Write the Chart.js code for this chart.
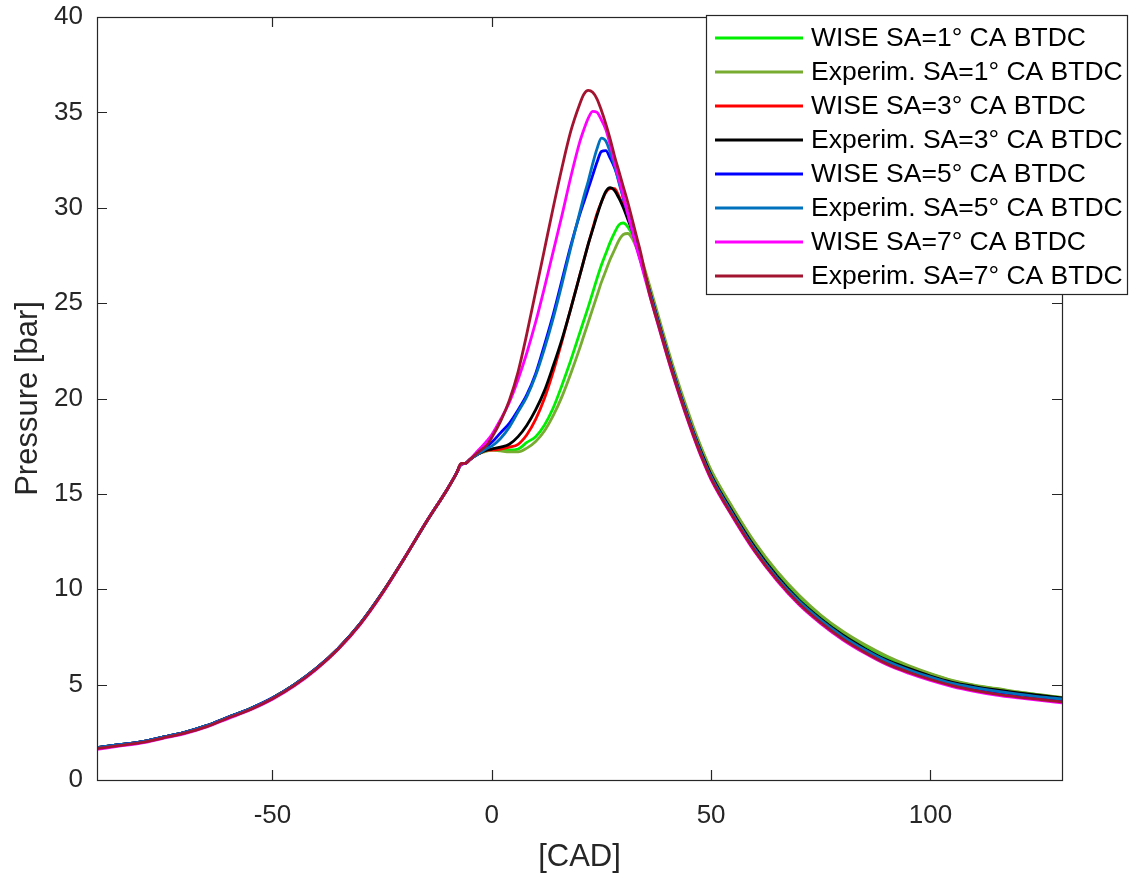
<!DOCTYPE html>
<html>
<head>
<meta charset="utf-8">
<script src="https://cdn.jsdelivr.net/npm/chart.js@4.4.1/dist/chart.umd.min.js"></script>
<style>
  html, body { margin: 0; padding: 0; background: #ffffff; }
  #wrap { width: 1132px; height: 874px; }
</style>
</head>
<body>
<div id="wrap"><canvas id="c" width="1132" height="874"></canvas></div>
<script>
// Crank angle [CAD] sampling shared by all curves
const CAD = [-90,-85,-80,-75,-70,-65,-60,-55,-50,-45,-40,-35,-30,-25,-20,-15,-10,-8,-7,-6,-5,-3,-1,
  0,2,4,6,8,10,12,14,16,18,20,
  21,22,23,24,25,26,27,28,29,30,31,32,33,34,
  36,38,40,42,44,46,48,50,
  55,60,65,70,75,80,85,90,95,100,105,110,115,120,125,130];

// Pressure [bar] series
const wiseSA1 = [1.7,1.85,2.0,2.25,2.5,2.85,3.3,3.75,4.3,5.0,5.85,6.9,8.2,9.8,11.6,13.5,15.3,16.1,16.55,16.6,16.8,17.15,17.3,
  17.35,17.3,17.3,17.35,17.7,18.0,18.6,19.5,20.7,22.0,23.4,
  24.1,24.8,25.55,26.3,27.0,27.6,28.2,28.7,29.1,29.2,29.0,28.6,28.0,27.3,
  25.8,24.2,22.6,21.1,19.7,18.4,17.25,16.2,
  14.2,12.4,10.9,9.65,8.6,7.75,7.05,6.45,5.95,5.55,5.2,4.95,4.78,4.6,4.45,4.32];
const expSA1 = [1.7,1.85,2.0,2.25,2.5,2.85,3.3,3.75,4.3,5.0,5.85,6.9,8.2,9.8,11.6,13.5,15.3,16.1,16.55,16.6,16.8,17.1,17.25,
  17.3,17.25,17.2,17.2,17.4,17.75,18.3,19.1,20.1,21.3,22.6,
  23.3,24.0,24.7,25.4,26.1,26.7,27.3,27.8,28.3,28.6,28.65,28.4,27.9,27.4,
  25.9,24.3,22.7,21.2,19.8,18.5,17.3,16.25,
  14.25,12.45,10.95,9.7,8.65,7.8,7.1,6.5,6.0,5.58,5.22,4.97,4.8,4.62,4.47,4.33];
const wiseSA3 = [1.7,1.85,2.0,2.25,2.5,2.85,3.3,3.75,4.3,5.0,5.85,6.9,8.2,9.8,11.6,13.5,15.3,16.1,16.55,16.6,16.8,17.1,17.3,
  17.3,17.35,17.45,17.6,18.1,18.9,20.0,21.4,23.0,24.7,26.4,
  27.25,28.1,28.9,29.7,30.3,30.8,31.0,31.0,30.6,30.1,29.5,28.9,28.1,27.25,
  25.6,24.0,22.4,20.9,19.5,18.2,17.0,15.95,
  13.95,12.15,10.65,9.4,8.4,7.55,6.85,6.25,5.8,5.4,5.07,4.83,4.65,4.5,4.36,4.24];
const expSA3 = [1.7,1.85,2.0,2.25,2.5,2.85,3.3,3.75,4.3,5.0,5.85,6.9,8.2,9.8,11.6,13.5,15.3,16.1,16.55,16.6,16.8,17.1,17.3,
  17.35,17.45,17.6,18.0,18.6,19.4,20.4,21.7,23.1,24.7,26.4,
  27.25,28.1,28.85,29.6,30.3,30.85,31.05,30.9,30.5,30.0,29.4,28.8,28.0,27.2,
  25.6,24.0,22.4,20.9,19.5,18.2,17.05,16.0,
  14.0,12.2,10.7,9.45,8.45,7.6,6.9,6.3,5.85,5.45,5.12,4.9,4.72,4.57,4.43,4.3];
const wiseSA5 = [1.7,1.85,2.0,2.25,2.5,2.85,3.3,3.75,4.3,5.0,5.85,6.9,8.2,9.8,11.6,13.5,15.3,16.1,16.55,16.6,16.8,17.15,17.5,
  17.7,18.2,18.7,19.4,20.2,21.3,22.8,24.4,26.2,28.0,29.6,
  30.3,31.0,31.7,32.4,32.95,33.0,32.6,32.1,31.4,30.5,29.7,28.85,28.0,27.2,
  25.55,23.95,22.35,20.85,19.45,18.15,16.95,15.9,
  13.9,12.1,10.6,9.35,8.35,7.5,6.8,6.2,5.75,5.35,5.03,4.8,4.62,4.47,4.33,4.2];
const expSA5 = [1.7,1.85,2.0,2.25,2.5,2.85,3.3,3.75,4.3,5.0,5.85,6.9,8.2,9.8,11.6,13.5,15.3,16.1,16.55,16.6,16.8,17.1,17.4,
  17.5,17.9,18.5,19.3,20.1,21.2,22.6,24.2,26.0,27.9,29.7,
  30.6,31.4,32.3,33.1,33.65,33.5,32.9,32.2,31.3,30.5,29.7,28.85,28.0,27.2,
  25.55,23.95,22.35,20.85,19.45,18.15,16.95,15.9,
  13.9,12.1,10.6,9.38,8.38,7.53,6.83,6.24,5.78,5.39,5.06,4.84,4.66,4.5,4.36,4.25];
const wiseSA7 = [1.6,1.77,1.93,2.18,2.43,2.78,3.23,3.68,4.23,4.93,5.8,6.85,8.15,9.75,11.6,13.5,15.3,16.1,16.55,16.6,16.8,17.3,17.8,
  18.1,18.9,19.8,21.0,22.4,24.0,25.8,27.7,29.6,31.6,33.4,
  34.1,34.7,35.05,35.0,34.6,34.1,33.3,32.4,31.5,30.6,29.7,28.8,27.9,27.1,
  25.4,23.8,22.2,20.7,19.3,18.0,16.8,15.75,
  13.75,11.95,10.45,9.2,8.2,7.35,6.65,6.05,5.6,5.22,4.9,4.65,4.45,4.3,4.17,4.05];
const expSA7 = [1.65,1.8,1.96,2.2,2.46,2.8,3.26,3.7,4.26,4.96,5.82,6.87,8.17,9.78,11.6,13.5,15.3,16.1,16.6,16.6,16.8,17.2,17.6,
  17.95,18.8,19.9,21.4,23.4,25.6,27.8,30.0,32.1,34.0,35.4,
  35.95,36.15,36.05,35.7,35.1,34.4,33.6,32.7,31.9,31.1,30.3,29.4,28.5,27.6,
  25.45,23.85,22.25,20.75,19.35,18.05,16.85,15.8,
  13.8,12.0,10.5,9.25,8.25,7.4,6.7,6.1,5.65,5.27,4.95,4.7,4.5,4.35,4.22,4.1];

const seriesLabels = [
  'WISE SA=1° CA BTDC','Experim. SA=1° CA BTDC',
  'WISE SA=3° CA BTDC','Experim. SA=3° CA BTDC',
  'WISE SA=5° CA BTDC','Experim. SA=5° CA BTDC',
  'WISE SA=7° CA BTDC','Experim. SA=7° CA BTDC'];
const seriesValues = [wiseSA1, expSA1, wiseSA3, expSA3, wiseSA5, expSA5, wiseSA7, expSA7];
const seriesColors = ['#00ee00','#77ac30','#ff0000','#000000','#0000ff','#0072bd','#ff00ff','#a2142f'];

const X_TICKS = [-50, 0, 50, 100];
const Y_TICKS = [0, 5, 10, 15, 20, 25, 30, 35, 40];

const FONT = "'Liberation Sans', Arial, Helvetica, sans-serif";
const AXIS_COLOR = '#262626';

const datasets = seriesValues.map((vals, i) => ({
  label: seriesLabels[i],
  data: CAD.map((x, k) => ({ x: x, y: vals[k] })),
  borderColor: seriesColors[i],
  backgroundColor: seriesColors[i],
  borderWidth: 2.8,
  pointRadius: 0,
  fill: false,
  cubicInterpolationMode: 'monotone',
  order: seriesValues.length - i
}));

const framePlugin = {
  id: 'frame',
  afterDatasetsDraw(chart) {
    const { ctx, chartArea: a, scales } = chart;
    ctx.save();
    ctx.strokeStyle = AXIS_COLOR;
    ctx.lineWidth = 1.2;
    ctx.strokeRect(a.left + 0.5, a.top + 0.5, a.right - a.left, a.bottom - a.top);
    const tl = 10;
    ctx.beginPath();
    X_TICKS.forEach(v => {
      const px = Math.round(scales.x.getPixelForValue(v)) + 0.5;
      ctx.moveTo(px, a.bottom); ctx.lineTo(px, a.bottom - tl);
      ctx.moveTo(px, a.top); ctx.lineTo(px, a.top + tl);
    });
    Y_TICKS.forEach(v => {
      const py = Math.round(scales.y.getPixelForValue(v)) + 0.5;
      ctx.moveTo(a.left, py); ctx.lineTo(a.left + tl, py);
      ctx.moveTo(a.right, py); ctx.lineTo(a.right - tl, py);
    });
    ctx.stroke();
    ctx.restore();
  }
};

const legendPlugin = {
  id: 'boxLegend',
  afterDraw(chart) {
    const { ctx } = chart;
    const bx = 706, by = 15, bw = 421, bh = 279;
    ctx.save();
    ctx.fillStyle = '#ffffff';
    ctx.fillRect(bx, by, bw, bh);
    ctx.strokeStyle = AXIS_COLOR;
    ctx.lineWidth = 1.2;
    ctx.strokeRect(bx + 0.5, by + 0.5, bw, bh);
    ctx.font = '26.5px ' + FONT;
    ctx.textBaseline = 'middle';
    ctx.textAlign = 'left';
    chart.data.datasets.forEach((ds, i) => {
      const y = 38 + i * 34;
      ctx.strokeStyle = ds.borderColor;
      ctx.lineWidth = 2.8;
      ctx.beginPath();
      ctx.moveTo(715, y); ctx.lineTo(803, y);
      ctx.stroke();
      ctx.fillStyle = '#000000';
      ctx.fillText(ds.label, 811, y + 1);
    });
    ctx.restore();
  }
};

new Chart(document.getElementById('c'), {
  type: 'line',
  data: { datasets: datasets },
  options: {
    responsive: false,
    animation: false,
    events: [],
    layout: { padding: { left: 0, top: 17, right: 70, bottom: 0 } },
    plugins: { legend: { display: false }, tooltip: { enabled: false } },
    scales: {
      x: {
        type: 'linear',
        min: -90, max: 130,
        afterBuildTicks: s => { s.ticks = X_TICKS.map(v => ({ value: v })); },
        afterFit: s => { s.height = 94; s.paddingLeft = 0; s.paddingRight = 0; },
        grid: { display: false, drawTicks: false },
        border: { display: false },
        ticks: { color: AXIS_COLOR, font: { family: FONT, size: 26 }, padding: 20, maxRotation: 0 },
        title: { display: true, text: '[CAD]', color: AXIS_COLOR, font: { family: FONT, size: 31, lineHeight: 1 }, padding: { top: 0, bottom: 1 } }
      },
      y: {
        type: 'linear',
        min: 0, max: 40,
        afterBuildTicks: s => { s.ticks = Y_TICKS.map(v => ({ value: v })); },
        afterFit: s => { s.width = 97; s.paddingTop = 0; s.paddingBottom = 0; },
        grid: { display: false, drawTicks: false },
        border: { display: false },
        ticks: { color: AXIS_COLOR, font: { family: FONT, size: 26 }, padding: 14 },
        title: { display: true, text: 'Pressure [bar]', color: AXIS_COLOR, font: { family: FONT, size: 31, lineHeight: 1 }, padding: { top: 13, bottom: 0 } }
      }
    }
  },
  plugins: [framePlugin, legendPlugin]
});
</script>
</body>
</html>
